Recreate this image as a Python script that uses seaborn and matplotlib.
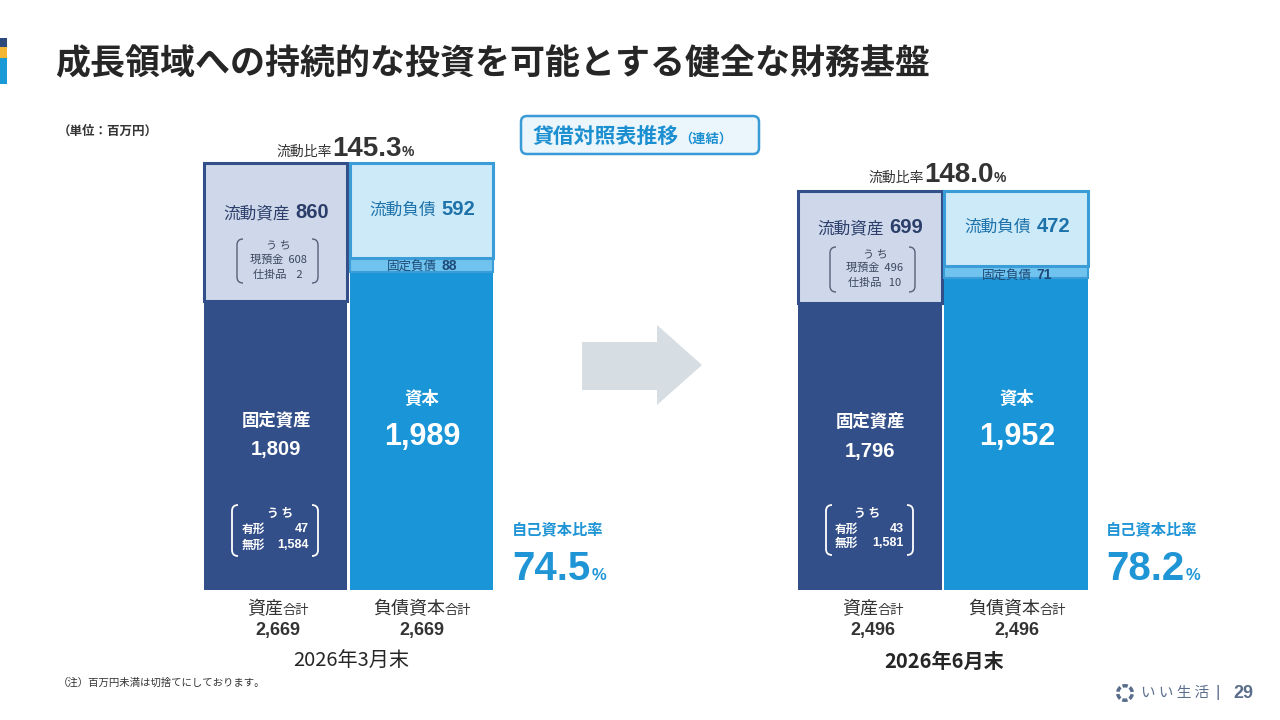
import numpy as np
import pandas as pd
import seaborn as sns
import matplotlib.pyplot as plt
from matplotlib.patches import Rectangle, FancyBboxPatch, Polygon, PathPatch, Wedge
from matplotlib.path import Path

# balance sheet values (million yen)
periods = ["2026年3月末", "2026年6月末"]
sides = ["資産", "負債資本"]
current_assets = [860, 699]
fixed_assets = [1809, 1796]
current_liab = [592, 472]
fixed_liab = [88, 71]
equity = [1989, 1952]
totals = [2669, 2496]
cash = [608, 496]
wip = [2, 10]
tangible = [47, 43]
intangible = [1584, 1581]
current_ratio = [145.3, 148.0]
equity_ratio = [74.5, 78.2]

NAVY = "#334f89"
CA_FACE = "#cfd8ea"
CL_FACE = "#cdeaf8"
FL_FACE = "#6fc3ee"
EQ = "#1a96d8"
LB_EDGE = "#3a9dd8"
CA_TEXT = "#2c3f6b"
CL_TEXT = "#1d72aa"
DARK = "#333333"

sns.set_style("white")
JP = ["Noto Sans CJK JP", "DejaVu Sans"]
NUM = ["Liberation Sans", "Noto Sans CJK JP"]
plt.rcParams["font.family"] = JP

fig = plt.figure(figsize=(12.8, 7.2), dpi=100)
fig.patch.set_facecolor("white")

# bars, one axes per period, same value scale
sheet_x = [(203, 494), (797, 1089)]
ymax = max(totals)
for i, (l, r) in enumerate(sheet_x):
    ax = fig.add_axes([l / 1280, 130 / 720, (r - l) / 1280, 427 / 720])
    segs = [
        ("資産", fixed_assets[i], 0, NAVY, "none", 0),
        ("資産", current_assets[i], fixed_assets[i], CA_FACE, NAVY, 2.2),
        ("負債資本", equity[i], 0, EQ, "none", 0),
        ("負債資本", fixed_liab[i], equity[i], FL_FACE, LB_EDGE, 1.5),
        ("負債資本", current_liab[i], equity[i] + fixed_liab[i], CL_FACE, LB_EDGE, 2.2),
    ]
    for side, h, b, fc, ec, lw in segs:
        sns.barplot(x=[side], y=[h], order=sides, bottom=b, color=fc,
                    edgecolor=ec, linewidth=lw, saturation=1, width=0.985,
                    errorbar=None, clip_on=False, ax=ax)
    ax.set_xlim(-0.5, 1.5)
    ax.set_ylim(0, ymax)
    ax.axis("off")

# overlay in pixel coordinates for the slide decoration and labels
ov = fig.add_axes([0, 0, 1, 1], zorder=10)
ov.set_xlim(0, 1280)
ov.set_ylim(720, 0)
ov.axis("off")
ov.patch.set_alpha(0)
renderer = fig.canvas.get_renderer()


def run(x, y, parts, ha="center", gap=0):
    texts = []
    for s, kw in parts:
        texts.append(ov.text(0, y, s, va="baseline", ha="left", **kw))
    widths = [t.get_window_extent(renderer).width for t in texts]
    total = sum(widths) + gap * (len(texts) - 1)
    start = x - total / 2 if ha == "center" else x
    for t, w in zip(texts, widths):
        t.set_x(start)
        start += w + gap


def bracket(x0, x1, y0, y1, color, lw):
    r = 6
    for xe, d in [(x0, 1), (x1, -1)]:
        verts = [(xe + d * r, y0), (xe, y0), (xe, y0 + r), (xe, y1 - r),
                 (xe, y1), (xe + d * r, y1)]
        codes = [Path.MOVETO, Path.CURVE3, Path.CURVE3, Path.LINETO,
                 Path.CURVE3, Path.CURVE3]
        ov.add_patch(PathPatch(Path(verts, codes), fill=False, edgecolor=color, lw=lw))


# header
ov.add_patch(Rectangle((0, 38), 7, 9, color="#2e4a7d", lw=0))
ov.add_patch(Rectangle((0, 47), 7, 11, color="#f2b534", lw=0))
ov.add_patch(Rectangle((0, 58), 7, 26, color="#1a9ad6", lw=0))
ov.text(55, 64, "成長領域への持続的な投資を可能とする健全な財務基盤", fontsize=25.2,
        fontweight="bold", color="#262626", va="center", ha="left", family=JP)
ov.text(58, 131, "（単位：百万円）", fontsize=9, fontweight="bold", color=DARK,
        va="center", ha="left", family=JP)

ov.add_patch(FancyBboxPatch((521, 116), 238, 38, boxstyle="round,pad=0,rounding_size=6",
                            facecolor="#eaf5fc", edgecolor="#3a9ad6", lw=1.8))
run(533, 143, [("貸借対照表推移", dict(fontsize=15, fontweight="bold", color="#1b8fd0", family=JP)),
               ("（連結）", dict(fontsize=9.5, fontweight="bold", color="#1b8fd0", family=JP))],
    ha="left")

# arrow between periods
ov.add_patch(Polygon([(582, 342), (657, 342), (657, 325), (702, 365), (657, 405),
                      (657, 390), (582, 390)], closed=True, facecolor="#d6dee4", lw=0))

# per-period labels
lay = [
    dict(ca=276, cl=422, ratio=(345, 156), ca_y=218, cl_y=215, fl_y=270,
         br1=(237, 318, 239, 283), br1_y=[245, 260, 275], br1_x=278,
         fa_y=(421, 449), br2=(232, 318, 505, 556), br2_y=[513, 529, 545],
         br2_x=(280, 242, 309), eq_y=(399, 437), er_x=512,
         tot_x=(278, 422), per_x=351, bold=False),
    dict(ca=870, cl=1017, ratio=(937, 182), ca_y=233, cl_y=232, fl_y=279,
         br1=(830, 915, 247, 292), br1_y=[254, 268, 283], br1_x=875,
         fa_y=(422, 451), br2=(826, 913, 505, 555), br2_y=[513, 529, 543],
         br2_x=(867, 835, 904), eq_y=(399, 437), er_x=1106,
         tot_x=(873, 1017), per_x=944, bold=True),
]

for i, L in enumerate(lay):
    run(L["ratio"][0], L["ratio"][1],
        [("流動比率", dict(fontsize=10, color=DARK, family=JP)),
         (f"{current_ratio[i]:.1f}", dict(fontsize=20, fontweight="bold", color=DARK, family=NUM)),
         ("%", dict(fontsize=10, fontweight="bold", color=DARK, family=NUM))])
    run(L["ca"], L["ca_y"],
        [("流動資産", dict(fontsize=12, color=CA_TEXT, family=JP)),
         (f"{current_assets[i]}", dict(fontsize=14.5, fontweight="bold", color=CA_TEXT, family=NUM))],
        gap=6)
    run(L["cl"], L["cl_y"],
        [("流動負債", dict(fontsize=12, color=CL_TEXT, family=JP)),
         (f"{current_liab[i]}", dict(fontsize=14.5, fontweight="bold", color=CL_TEXT, family=NUM))],
        gap=6)
    run(L["cl"], L["fl_y"],
        [("固定負債", dict(fontsize=9, color="#1e4a78", family=JP)),
         (f"{fixed_liab[i]}", dict(fontsize=10, fontweight="bold", color="#1e4a78", family=NUM))],
        gap=5)

    # current asset breakdown
    bracket(*L["br1"], color="#55617a", lw=1)
    sub = "#3a4660"
    ov.text(L["br1_x"], L["br1_y"][0], "う ち", fontsize=8, color=sub, ha="center", va="center", family=JP)
    ov.text(L["br1_x"], L["br1_y"][1], f"現預金  {cash[i]}", fontsize=8, color=sub, ha="center", va="center", family=JP)
    ov.text(L["br1_x"], L["br1_y"][2], f"仕掛品  {wip[i]:>3}", fontsize=8, color=sub, ha="center", va="center", family=JP)

    # fixed assets
    ov.text(L["ca"], L["fa_y"][0], "固定資産", fontsize=12.5, fontweight="bold", color="white",
            ha="center", va="center", family=JP)
    ov.text(L["ca"], L["fa_y"][1], f"{fixed_assets[i]:,}", fontsize=14.5, fontweight="bold",
            color="white", ha="center", va="center", family=NUM)
    bracket(*L["br2"], color="white", lw=1.3)
    cx, lx, rx = L["br2_x"]
    ov.text(cx, L["br2_y"][0], "う ち", fontsize=8.5, fontweight="bold", color="white",
            ha="center", va="center", family=JP)
    for lab, val, yy in [("有形", tangible[i], L["br2_y"][1]), ("無形", intangible[i], L["br2_y"][2])]:
        ov.text(lx, yy, lab, fontsize=8.5, fontweight="bold", color="white", ha="left", va="center", family=JP)
        ov.text(rx, yy, f"{val:,}", fontsize=9, fontweight="bold", color="white", ha="right",
                va="center", family=NUM)

    # equity
    ov.text(L["cl"], L["eq_y"][0], "資本", fontsize=12.5, fontweight="bold", color="white",
            ha="center", va="center", family=JP)
    ov.text(L["cl"], L["eq_y"][1], f"{equity[i]:,}", fontsize=22, fontweight="bold", color="white",
            ha="center", va="center", family=NUM)

    # equity ratio
    ov.text(L["er_x"], 529, "自己資本比率", fontsize=11, fontweight="bold", color="#1f95d6",
            ha="left", va="center", family=JP)
    run(L["er_x"], 580,
        [(f"{equity_ratio[i]:.1f}", dict(fontsize=29, fontweight="bold", color="#1f95d6", family=NUM)),
         ("%", dict(fontsize=12, fontweight="bold", color="#1f95d6", family=NUM))],
        ha="left", gap=1)

    # totals
    for tx, name in zip(L["tot_x"], ["資産", "負債資本"]):
        run(tx, 614, [(name, dict(fontsize=13, color=DARK, family=JP)),
                      ("合計", dict(fontsize=9.5, color=DARK, family=JP))])
        ov.text(tx, 630, f"{totals[i]:,}", fontsize=13, fontweight="bold", color=DARK,
                ha="center", va="center", family=NUM)
    ov.text(L["per_x"], 661, periods[i], fontsize=14.5, color="#262626",
            fontweight="bold" if L["bold"] else "normal", ha="center", va="center", family=JP)

# footer
ov.text(58, 683, "（注）百万円未満は切捨てにしております。", fontsize=7.5, color=DARK,
        ha="left", va="center", family=JP)
for k in range(6):
    ov.add_patch(Wedge((1125, 693), 9, k * 60 + 10, k * 60 + 52, width=3.5,
                       facecolor="#5a6e8c", lw=0))
ov.text(1141, 693, "い い 生 活", fontsize=10.5, color="#5a6e8c", ha="left", va="center", family=JP)
ov.text(1218, 693, "|", fontsize=12, color="#5a6e8c", ha="center", va="center", family=NUM)
ov.text(1243, 693, "29", fontsize=13, fontweight="bold", color="#5a6e8c", ha="center",
        va="center", family=NUM)

fig.savefig("out.png", dpi=100, facecolor="white")
